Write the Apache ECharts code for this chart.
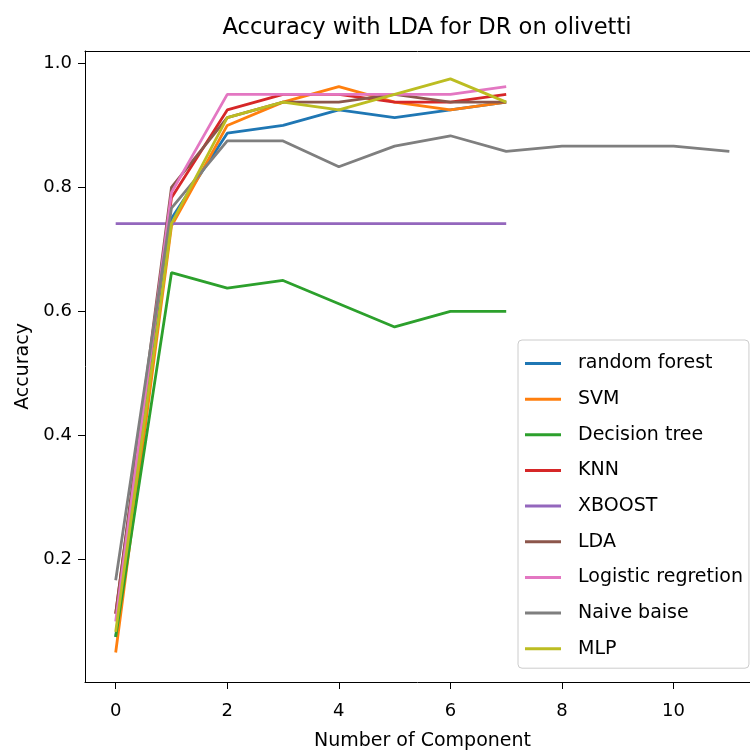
<!DOCTYPE html>
<html>
<head>
<meta charset="utf-8">
<script src="https://cdn.jsdelivr.net/npm/echarts@6/dist/echarts.min.js"></script>
<style>html,body{margin:0;padding:0;background:#fff}#c{width:750px;height:756px}</style>
</head>
<body>
<div id="c"></div>
<script>
var components = [0,1,2,3,4,5,6,7,8,9,10,11];
var xTicks = [0,2,4,6,8,10];
var yTicks = [0.2,0.4,0.6,0.8,1.0];
var seriesNames = ['random forest','SVM','Decision tree','KNN','XBOOST','LDA','Logistic regretion','Naive baise','MLP'];
var randomForest = [0.075, 0.75, 0.8875, 0.9, 0.925, 0.9125, 0.925, 0.9375];
var svm = [0.05, 0.7375, 0.9, 0.9375, 0.9625, 0.9375, 0.925, 0.9375];
var decisionTree = [0.075, 0.6625, 0.6375, 0.65, 0.6125, 0.575, 0.6, 0.6];
var knn = [0.1125, 0.7833, 0.925, 0.95, 0.95, 0.9375, 0.9375, 0.95];
var xboost = [0.7417, 0.7417, 0.7417, 0.7417, 0.7417, 0.7417, 0.7417, 0.7417];
var lda = [0.1125, 0.8, 0.9125, 0.9375, 0.9375, 0.95, 0.9375, 0.9375];
var logistic = [0.1, 0.7917, 0.95, 0.95, 0.95, 0.95, 0.95, 0.9625];
var naiveBayes = [0.1667, 0.7667, 0.875, 0.875, 0.8333, 0.8667, 0.8833, 0.8583, 0.8667, 0.8667, 0.8667, 0.8583];
var mlp = [0.0833, 0.7417, 0.9125, 0.9375, 0.925, 0.95, 0.975, 0.9375];
var colors = ['#1f77b4','#ff7f0e','#2ca02c','#d62728','#9467bd','#8c564b','#e377c2','#7f7f7f','#bcbd22'];
var allData = [randomForest, svm, decisionTree, knn, xboost, lda, logistic, naiveBayes, mlp];

var font = 'DejaVu Sans';
var series = allData.map(function(vals, i){
  return {
    name: seriesNames[i],
    type: 'line',
    xAxisIndex: 0,
    data: vals.map(function(v, j){ return [components[j], v]; }),
    symbol: 'none',
    showSymbol: false,
    lineStyle: {color: colors[i], width: 2.8},
    itemStyle: {color: colors[i]},
    animation: false
  };
});

var chart = echarts.init(document.getElementById('c'), null, {renderer: 'canvas'});
chart.setOption({
  animation: false,
  backgroundColor: '#fff',
  title: {
    text: 'Accuracy with LDA for DR on olivetti',
    left: 422, top: 12, textAlign: 'center',
    textStyle: {fontFamily: font, fontSize: 22.6, fontWeight: 'normal', color: '#000'}
  },
  grid: {left: 85, right: 0, top: 51, bottom: 73, show: false, containLabel: false},
  xAxis: [{
    type: 'value', min: -0.55, max: 11.37, position: 'bottom',
    name: 'Number of Component', nameLocation: 'middle', nameGap: 50,
    nameTextStyle: {fontFamily: font, fontSize: 19, color: '#000', padding: [0, 0, 0, 10]},
    axisLine: {show: true, onZero: false, lineStyle: {color: '#000', width: 1}},
    axisTick: {show: true, length: 7, lineStyle: {color: '#000'}, customValues: xTicks},
    axisLabel: {customValues: xTicks, fontFamily: font, fontSize: 18, color: '#000', margin: 20},
    splitLine: {show: false}
  }, {
    type: 'value', min: -0.55, max: 11.37, position: 'top',
    axisLine: {show: true, onZero: false, lineStyle: {color: '#000', width: 1}},
    axisTick: {show: false}, axisLabel: {show: false}, splitLine: {show: false}
  }],
  yAxis: {
    type: 'value', min: 0.0025, max: 1.02,
    name: 'Accuracy', nameLocation: 'middle', nameGap: 52, nameRotate: 90,
    nameTextStyle: {fontFamily: font, fontSize: 19, color: '#000'},
    axisLine: {show: true, onZero: false, lineStyle: {color: '#000', width: 1}},
    axisTick: {show: true, length: 7, lineStyle: {color: '#000'}, customValues: yTicks},
    axisLabel: {customValues: yTicks, fontFamily: font, fontSize: 18, color: '#000', margin: 13,
      formatter: function(v){ return v.toFixed(1); }},
    splitLine: {show: false}
  },
  legend: {
    orient: 'vertical', left: 518, top: 340,
    backgroundColor: '#fff', borderColor: '#cccccc', borderWidth: 1, borderRadius: 4,
    padding: [14, 6, 10, 7],
    itemGap: 16.65, itemWidth: 36, itemHeight: 3, icon: 'rect',
    textStyle: {fontFamily: font, fontSize: 19, color: '#000', lineHeight: 18, padding: [0, 0, 0, 12]},
    data: seriesNames.map(function(n, i){ return {name: n, itemStyle: {color: colors[i]}}; })
  },
  series: series
});
</script>
</body>
</html>
